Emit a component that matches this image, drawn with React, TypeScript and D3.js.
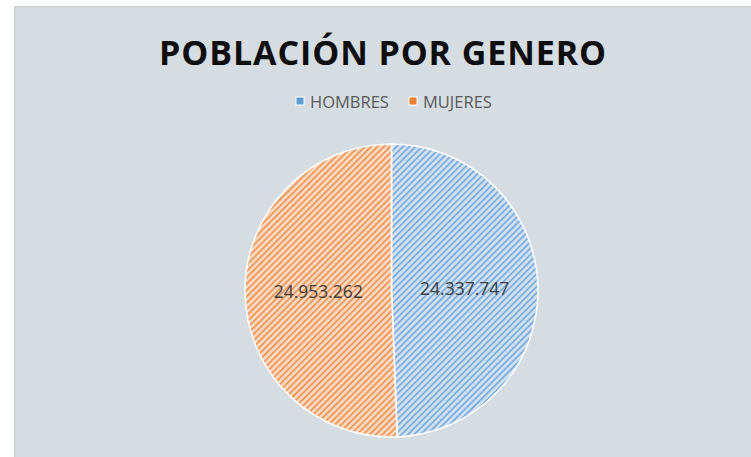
import React from "react";
import * as d3 from "d3";

const categories = ["HOMBRES", "MUJERES"];
const values = [24337747, 24953262];
const labels = ["24.337.747", "24.953.262"];
const title = "POBLACIÓN POR GENERO";

const W = 751, H = 457;
const baseColors = ["#cfe0f2", "#fcd8bd"];
const lineColors = ["#7aaade", "#f0955b"];
const legendColors = ["#5b9bd5", "#ed7d31"];

export default function App() {
  const cx = 391.5, cy = 290.5, r = 146.5;
  const pie = d3.pie<number>().sort(null).startAngle(0).endAngle(2 * Math.PI);
  const arcs = pie(values);
  const arc = d3.arc<d3.PieArcDatum<number>>().innerRadius(0).outerRadius(r);
  const labelArc = d3.arc<d3.PieArcDatum<number>>().innerRadius(r * 0.5).outerRadius(r * 0.5);
  return (
    <svg width={W} height={H} style={{ position: "absolute", left: 0, top: 0, background: "#fff" }}>
      <defs>
        {categories.map((c, i) => (
          <pattern key={c} id={`pat${i}`} patternUnits="userSpaceOnUse" width={4.5} height={4.5}
            patternTransform="rotate(45)">
            <rect width={4.5} height={4.5} fill={baseColors[i]} />
            <rect width={1.7} height={4.5} fill={lineColors[i]} />
          </pattern>
        ))}
      </defs>
      <rect x={14.5} y={6.5} width={W} height={H} fill="#d5dde3" stroke="#c8c8c8" strokeWidth={1} />
      <text x={383} y={65} textAnchor="middle" fontFamily="'Open Sans', sans-serif" fontWeight={700}
        fontSize={34} letterSpacing={0.9} fill="#0d0d0d">{title}</text>
      <g fontFamily="'Open Sans', sans-serif" fontSize={16.5} fill="#595959">
        {categories.map((c, i) => {
          const x0 = i === 0 ? 296 : 409;
          return (
            <g key={c}>
              <rect x={x0} y={97} width={8} height={8} fill={legendColors[i]} stroke="#fff" strokeWidth={1} />
              <text x={x0 + 14} y={107.5}>{c}</text>
            </g>
          );
        })}
      </g>
      <g transform={`translate(${cx},${cy})`}>
        {arcs.map((a, i) => (
          <path key={i} d={arc(a) || ""} fill={`url(#pat${i})`} stroke="#fff" strokeWidth={1.5} />
        ))}
        {arcs.map((a, i) => {
          const [x, y] = labelArc.centroid(a);
          return (
            <text key={i} x={x} y={y + 6} textAnchor="middle" fontFamily="'Open Sans', sans-serif"
              fontSize={17.5} fill="#404040">{labels[i]}</text>
          );
        })}
      </g>
    </svg>
  );
}
